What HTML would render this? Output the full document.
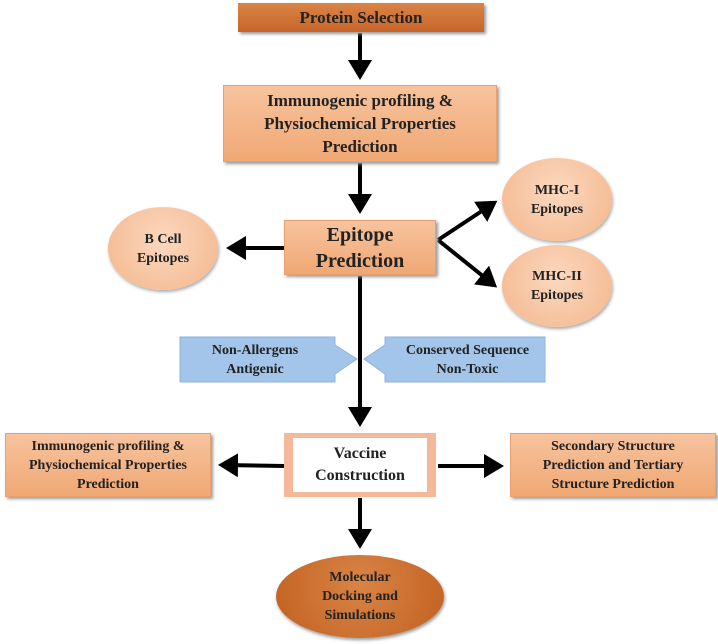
<!DOCTYPE html>
<html><head><style>
body{margin:0;width:718px;height:644px;background:#fff;position:relative;overflow:hidden;font-family:"Liberation Serif",serif;font-weight:bold;color:#222}
.b{position:absolute;display:flex;align-items:center;justify-content:center;text-align:center;box-sizing:border-box}
.lo{background:linear-gradient(#f7c39e,#f0a874);box-shadow:2px 2px 3px #999;border:1px solid #e8a070}
.c{border-radius:50%;background:radial-gradient(circle at 50% 40%,#fbd8bf,#f3b58a);box-shadow:1px 2px 3px #aaa}
.bl{background:linear-gradient(#b6d2ef,#93bbe6);color:#222}
</style></head><body>
<svg width="718" height="644" style="position:absolute;left:0;top:0">
<defs><marker id="a" markerWidth="6" markerHeight="6" refX="4" refY="3" orient="auto" markerUnits="strokeWidth"><path d="M0,0 L5,3 L0,6 z" fill="#000"/></marker></defs>
<g stroke="#000" stroke-width="4" fill="none">
<line x1="360" y1="33" x2="360" y2="76" marker-end="url(#a)"/>
<line x1="360" y1="163" x2="360" y2="210" marker-end="url(#a)"/>
<line x1="284" y1="248" x2="230" y2="248" marker-end="url(#a)"/>
<line x1="438" y1="240" x2="494" y2="203" marker-end="url(#a)"/>
<line x1="438" y1="240" x2="494" y2="285" marker-end="url(#a)"/>
<line x1="360" y1="276" x2="360" y2="423" marker-end="url(#a)"/>
<line x1="284" y1="466" x2="222" y2="465" marker-end="url(#a)"/>
<line x1="438" y1="466" x2="500" y2="466" marker-end="url(#a)"/>
<line x1="360" y1="498" x2="360" y2="545" marker-end="url(#a)"/>
</g>
<path d="M180,337 H335 V345 L357,359 L335,374 V382 H180 Z" fill="#a3c5ea" stroke="#8fb3dc"/>
<path d="M545,337 H385 V345 L364,359 L385,374 V382 H545 Z" fill="#a3c5ea" stroke="#8fb3dc"/>
</svg>
<div class="b" style="left:238px;top:3px;width:246px;height:29px;background:linear-gradient(#d98446,#c8652a);font-size:17px;box-shadow:2px 2px 3px #999">Protein Selection</div>
<div class="b lo" style="left:223px;top:85px;width:274px;height:77px;font-size:17px;line-height:23px">Immunogenic profiling &amp;<br>Physiochemical Properties<br>Prediction</div>
<div class="b lo" style="left:284px;top:220px;width:152px;height:55px;font-size:20px;line-height:26px">Epitope<br>Prediction</div>
<div class="b c" style="left:108px;top:207px;width:110px;height:83px;font-size:14px;line-height:19px">B Cell<br>Epitopes</div>
<div class="b c" style="left:502px;top:158px;width:110px;height:83px;font-size:14px;line-height:19px">MHC-I<br>Epitopes</div>
<div class="b c" style="left:502px;top:245px;width:110px;height:82px;font-size:14px;line-height:19px">MHC-II<br>Epitopes</div>
<div class="b" style="left:180px;top:337px;width:150px;height:45px;font-size:14px;line-height:19px">Non-Allergens<br>Antigenic</div>
<div class="b" style="left:390px;top:337px;width:155px;height:45px;font-size:14px;line-height:19px">Conserved Sequence<br>Non-Toxic</div>
<div class="b" style="left:284px;top:433px;width:152px;height:64px;background:#f5b898;padding:5px 9px"><div class="b" style="position:static;background:#fff;width:100%;height:100%;font-size:16px;line-height:22px">Vaccine<br>Construction</div></div>
<div class="b lo" style="left:5px;top:433px;width:206px;height:64px;font-size:14px;line-height:19px">Immunogenic profiling &amp;<br>Physiochemical Properties<br>Prediction</div>
<div class="b lo" style="left:510px;top:433px;width:206px;height:64px;font-size:14px;line-height:19px">Secondary Structure<br>Prediction and Tertiary<br>Structure Prediction</div>
<div class="b" style="left:276px;top:555px;width:168px;height:83px;border-radius:50%;background:radial-gradient(circle at 50% 35%,#d98446,#c0601f);font-size:14px;line-height:19px;box-shadow:1px 2px 3px #999">Molecular<br>Docking and<br>Simulations</div>
</body></html>
